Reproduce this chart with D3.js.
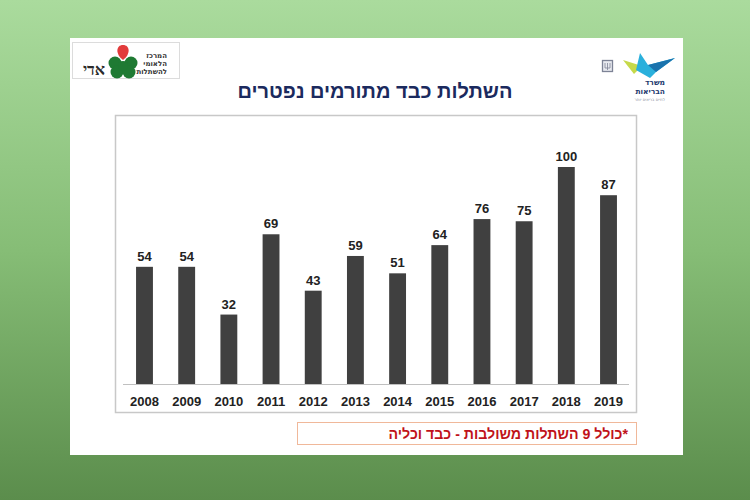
<!DOCTYPE html>
<html><head><meta charset="utf-8">
<script src="https://cdn.jsdelivr.net/npm/d3@7/dist/d3.min.js"></script>
<style>html,body{margin:0;padding:0;}svg{display:block;}</style>
</head><body>
<svg id="c" width="750" height="500"></svg>
<script>
const years = ["2008","2009","2010","2011","2012","2013","2014","2015","2016","2017","2018","2019"];
const values = [54,54,32,69,43,59,51,64,76,75,100,87];
const title = "השתלות כבד מתורמים נפטרים";
const footnote = "*כולל 9 השתלות משולבות - כבד וכליה";

const svg = d3.select("#c");
const defs = svg.append("defs");
const g = defs.append("linearGradient").attr("id","bg").attr("x1",0).attr("y1",0).attr("x2",0).attr("y2",1);
g.append("stop").attr("offset","0%").attr("stop-color","#aadb9d");
g.append("stop").attr("offset","50%").attr("stop-color","#86bd76");
g.append("stop").attr("offset","100%").attr("stop-color","#5b8d4c");
svg.append("rect").attr("width",750).attr("height",500).attr("fill","url(#bg)");

// slide
svg.append("rect").attr("x",70).attr("y",38).attr("width",613).attr("height",417).attr("fill","#ffffff");

// left logo
const ll = svg.append("g");
ll.append("rect").attr("x",72.5).attr("y",42.5).attr("width",107).attr("height",36).attr("fill","#fff").attr("stroke","#dcdcdc");
ll.append("text").attr("x",94).attr("y",75).attr("text-anchor","middle").attr("font-family","DejaVu Serif, serif")
  .attr("font-weight","bold").attr("font-size",16).attr("fill","#2b2b2b").text("אדי");
const cx=123, cy=66;
[[-8,-3],[8,-3],[-6,6],[6,6]].forEach(([dx,dy])=>{
  ll.append("circle").attr("cx",cx+dx).attr("cy",cy+dy).attr("r",6.5).attr("fill","#1f7a33");
});
ll.append("circle").attr("cx",cx).attr("cy",cy).attr("r",5).attr("fill","#1f7a33");
ll.append("path").attr("d",`M${cx},${cy-6} C${cx-8},${cy-12} ${cx-7},${cy-21} ${cx},${cy-21} C${cx+7},${cy-21} ${cx+8},${cy-12} ${cx},${cy-6}Z`).attr("fill","#e23b3b");
["המרכז","הלאומי","להשתלות"].forEach((t,i)=>{
  ll.append("text").attr("x",167).attr("y",58+i*8).attr("text-anchor","end").attr("font-family","DejaVu Sans, sans-serif")
    .attr("font-size",7).attr("font-weight","bold").attr("fill","#333").text(t);
});

// right logo
const rl = svg.append("g");
rl.append("rect").attr("x",602.5).attr("y",60.5).attr("width",10).attr("height",11).attr("fill","#e8eaf0").attr("stroke","#7d8396").attr("stroke-width",1.3);
rl.append("path").attr("d","M605,63 L605,68 L610,68 L610,63 M607.5,63 L607.5,70").attr("fill","none").attr("stroke","#7d8396").attr("stroke-width",0.8);
rl.append("path").attr("d","M623,60 L642,66 L634,74 Z").attr("fill","#c6d94a");
rl.append("path").attr("d","M640,53 L648,65 L675,58 L656,72 L650,78 L636,70 Z").attr("fill","#2ab0dc");
rl.append("path").attr("d","M648,65 L675,58 L656,72 Z").attr("fill","#1a73ad");
rl.append("text").attr("x",665).attr("y",85).attr("text-anchor","end").attr("font-family","DejaVu Sans, sans-serif")
  .attr("font-size",7.5).attr("font-weight","bold").attr("fill","#1d3a6e").text("משרד");
rl.append("text").attr("x",665).attr("y",94).attr("text-anchor","end").attr("font-family","DejaVu Sans, sans-serif")
  .attr("font-size",7.5).attr("font-weight","bold").attr("fill","#1d3a6e").text("הבריאות");
rl.append("text").attr("x",665).attr("y",100.5).attr("text-anchor","end").attr("font-family","DejaVu Sans, sans-serif")
  .attr("font-size",4).attr("fill","#8890a0").text("לחיים בריאים יותר");

// title
svg.append("text").attr("x",375).attr("y",98).attr("text-anchor","middle")
  .attr("font-family","Liberation Sans, Arial, sans-serif").attr("font-weight","bold").attr("font-size",20)
  .attr("fill","#1b2a5e").text(title);

// chart box
svg.append("rect").attr("x",115.5).attr("y",115.5).attr("width",521).attr("height",297)
  .attr("fill","#fff").attr("stroke","#c8c8c8").attr("stroke-width",1.5);

const x = d3.scaleBand().domain(years).range([123.4,629.6]).paddingInner(0.6).paddingOuter(0.3);
const y = d3.scaleLinear().domain([0,100]).range([384,167]);

svg.append("line").attr("x1",123).attr("x2",629).attr("y1",384.5).attr("y2",384.5).attr("stroke","#c0c0c0");

svg.append("g").selectAll("rect").data(values).join("rect")
  .attr("x",(d,i)=>x(years[i])).attr("width",x.bandwidth())
  .attr("y",d=>y(d)).attr("height",d=>y(0)-y(d)).attr("fill","#404040");

svg.append("g").selectAll("text").data(values).join("text")
  .attr("x",(d,i)=>x(years[i])+x.bandwidth()/2).attr("y",d=>y(d)-6)
  .attr("text-anchor","middle").attr("font-family","Liberation Sans, Arial, sans-serif")
  .attr("font-weight","bold").attr("font-size",13).attr("fill","#222").text(d=>d);

const xa = svg.append("g").attr("transform","translate(0,384)")
  .call(d3.axisBottom(x).tickSize(0).tickPadding(13));
xa.select(".domain").remove();
xa.selectAll("text").attr("font-family","Liberation Sans, Arial, sans-serif").attr("font-weight","bold")
  .attr("font-size",13).attr("fill","#222");

// footnote
svg.append("rect").attr("x",297.5).attr("y",422.5).attr("width",339).attr("height",22)
  .attr("fill","#fff").attr("stroke","#f0b89a").attr("stroke-width",1);
svg.append("text").attr("x",628).attr("y",438.5).attr("direction","rtl").attr("text-anchor","start")
  .attr("font-family","Liberation Sans, Arial, sans-serif").attr("font-weight","bold").attr("font-size",14.2)
  .attr("fill","#c0121a").text(footnote);
</script>
</body></html>
